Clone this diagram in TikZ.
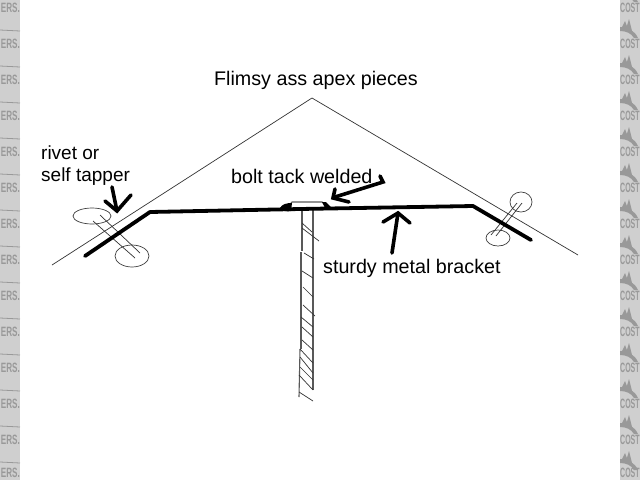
\documentclass[tikz,border=0pt]{standalone}
\usepackage{fontspec}
\setmainfont{Liberation Sans}
\definecolor{stripgray}{HTML}{CFCFCF}
\definecolor{wmgray}{HTML}{999999}
\tikzset{
  thin line/.style={draw=black!80,line width=0.7pt},
  bolt line/.style={draw=black!65,line width=1.1pt},
  hatch line/.style={draw=black!80,line width=0.7pt},
  bracket line/.style={draw=black,line width=3.8pt,line cap=round,line join=round},
  pointer/.style={draw=black,line width=3.6pt,line cap=round,line join=miter},
  ring/.style={draw=black!75,line width=0.7pt},
  label text/.style={font=\fontsize{19.7}{22}\selectfont,text=black,inner sep=0pt,anchor=base west,align=left},
  small label/.style={label text,font=\fontsize{19}{22}\selectfont},
  water/.style={font=\bfseries\fontsize{13.5}{13.5}\selectfont,text=wmgray,inner sep=0pt}
}
\begin{document}
\begin{tikzpicture}[x=1pt,y=-1pt]
\useasboundingbox (0,0) rectangle (640,480);
\fill[white] (0,0) rectangle (640,480);
% side strips
\fill[stripgray] (0,0) rectangle (20,480);
\fill[stripgray] (620,0) rectangle (640,480);
\foreach \k in {0,...,12}{
  \node[water,anchor=east] (l\k) at (20,{8+36*\k}) {\scalebox{0.6}[1]{ERS.}};
  \draw[wmgray,line width=0.8pt] (0,{30+36*\k}) -- (20,{31+36*\k});
  \node[water,anchor=west] (r\k) at (620,{8+36*\k}) {\scalebox{0.52}[1]{COST}};
}
\node[water,anchor=east] (lend) at (20,473) {\scalebox{0.6}[1]{ERS.}};
\node[water,anchor=west] (rend) at (620,473) {\scalebox{0.52}[1]{COST}};
\begin{scope}
\clip (620,0) rectangle (640,480);
\foreach \k in {-1,...,12}{
  \fill[wmgray] (620,{27+36*\k}) .. controls (628,{27+36*\k}) and (635,{31+36*\k}) .. (638,{38+36*\k}) -- (634,{38+36*\k}) .. controls (631,{33+36*\k}) and (626,{31+36*\k}) .. (620,{31+36*\k}) -- cycle;
  \fill[wmgray] (621,{29+36*\k}) -- (625,{21+36*\k}) -- (628,{29+36*\k}) -- cycle;
  \fill[wmgray] (626,{29+36*\k}) -- (629,{19+36*\k}) -- (632,{31+36*\k}) -- cycle;
}
\end{scope}
% roof
\draw[thin line] (52,265) -- (312,98) -- (578,255);
% rivets
\draw[ring] (92,216) ellipse [x radius=19,y radius=8];
\draw[ring] (132,256) ellipse [x radius=17,y radius=11];
\draw[thin line] (93,221) -- (135,258);
\draw[thin line] (100,215) -- (140,253);
\draw[ring] (521,202) ellipse [x radius=11,y radius=10];
\draw[ring] (498,238) ellipse [x radius=12,y radius=8];
\draw[thin line] (522,203) -- (496,236);
\draw[thin line] (517,203) -- (491,235);
% bolt shaft
\draw[bolt line] (302,208) -- (302,251);
\draw[bolt line] (301,252) -- (301,349);
\draw[bolt line] (300,349) -- (299,397);
\draw[bolt line] (313,208) -- (313,390);
\foreach \a/\b/\c/\d in {302/223/312/232,302/228/319/241,304/253/314/259,302/271/313/278,303/287/313/297,303/305/315/316,301/317/313/327,302/327/313/337,302/340/313/350,300/349/313/363,300/357/313/373,300/367/313/380,299/375/313/390,299/392/313/401}
  \draw[hatch line] (\a,\b) -- (\c,\d);
% bolt head
\draw[bolt line] (287,208) -- (292,202) -- (322,202) -- (328,207);
% welds
\fill[black] (280,208) .. controls (282,204) and (287,203) .. (292,203) -- (291,211) .. controls (287,212) and (282,211) .. (280,208) -- cycle;
\fill[black] (322,202) -- (326,202) -- (331,207) -- (325,208) -- cycle;
% bracket
\draw[bracket line] (85,256) -- (150,212) -- (300,209) -- (473,206) -- (531,240);
% pointers
\draw[pointer] (112,187) -- (117,211);
\draw[pointer] (105,201) -- (117,211) -- (131,195);
\draw[pointer] (380,176) -- (383,182) -- (335,197);
\draw[pointer] (335,189) -- (333,198) -- (349,202);
\draw[pointer] (392,253) -- (398,213);
\draw[pointer] (383,222) -- (398,213) -- (410,223);
% labels
\node[label text] (title) at (214,85) {Flimsy ass apex pieces};
\node[small label] (rivet) at (41,159) {rivet or};
\node[small label] (self) at (41,181) {self tapper};
\node[label text] (tack) at (231,183) {bolt tack welded};
\node[label text] (sturdy) at (323,273) {sturdy metal bracket};
\end{tikzpicture}
\end{document}
